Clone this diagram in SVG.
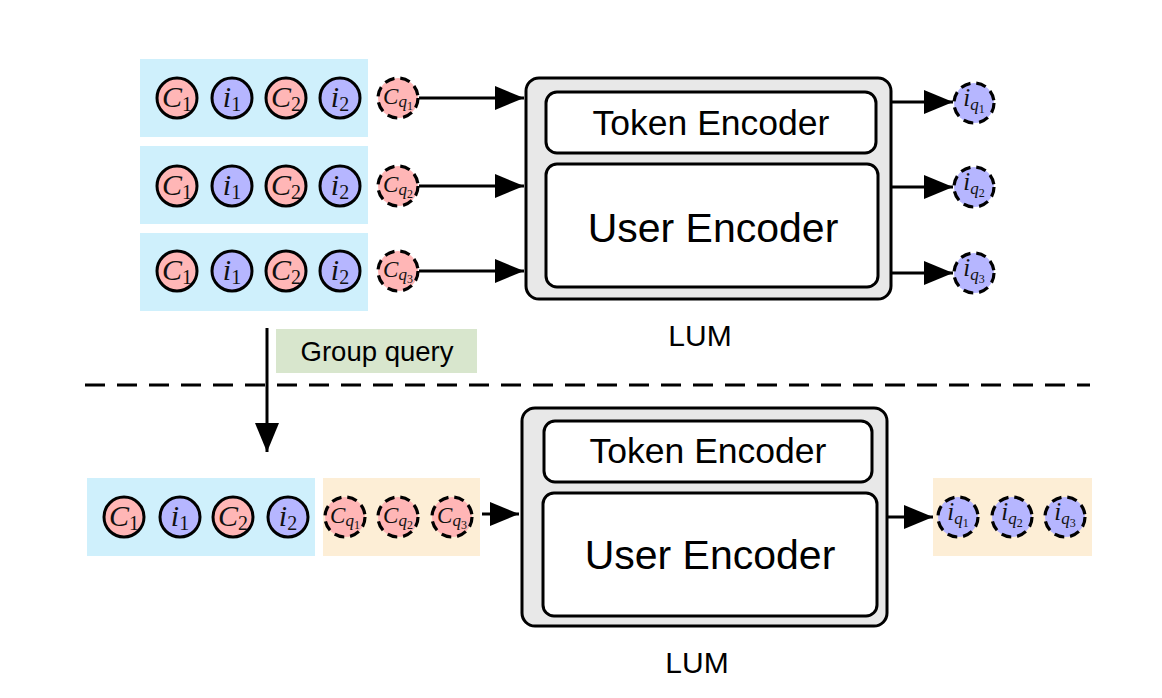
<svg xmlns="http://www.w3.org/2000/svg" width="1162" height="698" viewBox="0 0 1162 698">
<style>
.bg{fill:#ffffff}
.blue{fill:#cff0fc}
.orange{fill:#fdeed6}
.green{fill:#d8e6cd}
.c{fill:#ffb6b6;stroke:#000;stroke-width:3}
.i{fill:#b6b6ff;stroke:#000;stroke-width:3}
.dash{stroke-width:3.2;stroke-dasharray:10 6}
.m{font-family:"Liberation Serif",serif;font-style:italic;fill:#111}
.big{font-size:30px}
.sub{font-size:20px;font-style:normal}
.qs{font-size:17px}
.qss{font-size:12px;font-style:normal}
.sans{font-family:"Liberation Sans",Arial,sans-serif;fill:#000}
.lum{fill:#e8e8e8;stroke:#000;stroke-width:3}
.inner{fill:#fff;stroke:#000;stroke-width:3}
.edge{stroke:#000;stroke-width:3;fill:none}
</style>
<defs>
<marker id="ah" markerUnits="userSpaceOnUse" markerWidth="30" markerHeight="24" refX="29" refY="12" orient="auto">
<path d="M0,0 L29,12 L0,24 z" fill="#000"/>
</marker>
</defs>
<rect width="1162" height="698" class="bg"/>

<!-- background panels -->
<g id="panels">
<rect x="140" y="59" width="228" height="78" class="blue"/>
<rect x="140" y="146" width="228" height="78" class="blue"/>
<rect x="140" y="233" width="228" height="78" class="blue"/>
<rect x="87" y="478" width="228" height="78" class="blue"/>
<rect x="323" y="478" width="157" height="78" class="orange"/>
<rect x="933" y="478" width="159" height="78" class="orange"/>
</g>

<!-- connectors -->
<g id="connectors">
<line x1="419" y1="98" x2="524" y2="98" class="edge" marker-end="url(#ah)"/>
<line x1="419" y1="186" x2="524" y2="186" class="edge" marker-end="url(#ah)"/>
<line x1="419" y1="271" x2="524" y2="271" class="edge" marker-end="url(#ah)"/>
<line x1="892" y1="102" x2="953" y2="102" class="edge" marker-end="url(#ah)"/>
<line x1="892" y1="187" x2="953" y2="187" class="edge" marker-end="url(#ah)"/>
<line x1="892" y1="273" x2="953" y2="273" class="edge" marker-end="url(#ah)"/>
<line x1="267" y1="328" x2="267" y2="452" class="edge" marker-end="url(#ah)"/>
<line x1="482" y1="514" x2="519" y2="514" class="edge" marker-end="url(#ah)"/>
<line x1="888" y1="517" x2="933" y2="517" class="edge" marker-end="url(#ah)"/>
<line x1="85" y1="385" x2="1090" y2="385" stroke="#000" stroke-width="3" stroke-dasharray="20 12"/>
</g>

<!-- group query label -->
<g id="group-query">
<rect x="276" y="329" width="201" height="44" class="green"/>
<text x="377" y="361" text-anchor="middle" class="sans" font-size="27.5">Group query</text>
</g>

<!-- top LUM -->
<g id="lum-top">
<rect x="526" y="78" width="365" height="221" rx="13" class="lum"/>
<rect x="546" y="92" width="330" height="61" rx="11" class="inner"/>
<rect x="546" y="164" width="332" height="123" rx="11" class="inner"/>
<text x="711" y="135" text-anchor="middle" class="sans" font-size="35.5">Token Encoder</text>
<text x="713" y="242" text-anchor="middle" class="sans" font-size="41">User Encoder</text>
<text x="700" y="346" text-anchor="middle" class="sans" font-size="30">LUM</text>
</g>

<!-- bottom LUM -->
<g id="lum-bottom">
<rect x="522" y="408" width="365" height="218" rx="13" class="lum"/>
<rect x="544" y="421" width="328" height="61" rx="11" class="inner"/>
<rect x="543" y="493" width="334" height="123" rx="11" class="inner"/>
<text x="708" y="463" text-anchor="middle" class="sans" font-size="35.5">Token Encoder</text>
<text x="710" y="569" text-anchor="middle" class="sans" font-size="41">User Encoder</text>
<text x="697" y="673" text-anchor="middle" class="sans" font-size="30">LUM</text>
</g>

<!-- top row 1 tokens -->
<g id="row1">
<circle cx="177" cy="98" r="20" class="c"/><text x="177" y="107" text-anchor="middle" class="m big">C<tspan class="sub" dy="4">1</tspan></text>
<circle cx="232" cy="98" r="20" class="i"/><text x="232" y="107" text-anchor="middle" class="m big">i<tspan class="sub" dy="4">1</tspan></text>
<circle cx="286" cy="98" r="20" class="c"/><text x="286" y="107" text-anchor="middle" class="m big">C<tspan class="sub" dy="4">2</tspan></text>
<circle cx="340" cy="98" r="20" class="i"/><text x="340" y="107" text-anchor="middle" class="m big">i<tspan class="sub" dy="4">2</tspan></text>
</g>
<g id="row2">
<circle cx="177" cy="186" r="20" class="c"/><text x="177" y="195" text-anchor="middle" class="m big">C<tspan class="sub" dy="4">1</tspan></text>
<circle cx="232" cy="186" r="20" class="i"/><text x="232" y="195" text-anchor="middle" class="m big">i<tspan class="sub" dy="4">1</tspan></text>
<circle cx="286" cy="186" r="20" class="c"/><text x="286" y="195" text-anchor="middle" class="m big">C<tspan class="sub" dy="4">2</tspan></text>
<circle cx="340" cy="186" r="20" class="i"/><text x="340" y="195" text-anchor="middle" class="m big">i<tspan class="sub" dy="4">2</tspan></text>
</g>
<g id="row3">
<circle cx="177" cy="271" r="20" class="c"/><text x="177" y="280" text-anchor="middle" class="m big">C<tspan class="sub" dy="4">1</tspan></text>
<circle cx="232" cy="271" r="20" class="i"/><text x="232" y="280" text-anchor="middle" class="m big">i<tspan class="sub" dy="4">1</tspan></text>
<circle cx="286" cy="271" r="20" class="c"/><text x="286" y="280" text-anchor="middle" class="m big">C<tspan class="sub" dy="4">2</tspan></text>
<circle cx="340" cy="271" r="20" class="i"/><text x="340" y="280" text-anchor="middle" class="m big">i<tspan class="sub" dy="4">2</tspan></text>
</g>

<!-- top query tokens -->
<g id="cq-top">
<circle cx="398" cy="98" r="20" class="c dash"/><text x="398" y="104" text-anchor="middle" class="m" font-size="23">C<tspan class="qs" dy="3">q</tspan><tspan class="qss" dy="3">1</tspan></text>
<circle cx="398" cy="186" r="20" class="c dash"/><text x="398" y="192" text-anchor="middle" class="m" font-size="23">C<tspan class="qs" dy="3">q</tspan><tspan class="qss" dy="3">2</tspan></text>
<circle cx="398" cy="271" r="20" class="c dash"/><text x="398" y="277" text-anchor="middle" class="m" font-size="23">C<tspan class="qs" dy="3">q</tspan><tspan class="qss" dy="3">3</tspan></text>
</g>
<g id="iq-top">
<circle cx="974" cy="103" r="20" class="i dash"/><text x="974" y="106" text-anchor="middle" class="m" font-size="25">i<tspan class="qs" dy="4">q</tspan><tspan class="qss" dy="3">1</tspan></text>
<circle cx="974" cy="187" r="20" class="i dash"/><text x="974" y="190" text-anchor="middle" class="m" font-size="25">i<tspan class="qs" dy="4">q</tspan><tspan class="qss" dy="3">2</tspan></text>
<circle cx="974" cy="273" r="20" class="i dash"/><text x="974" y="276" text-anchor="middle" class="m" font-size="25">i<tspan class="qs" dy="4">q</tspan><tspan class="qss" dy="3">3</tspan></text>
</g>

<!-- bottom row -->
<g id="row-bottom">
<circle cx="124" cy="517" r="20" class="c"/><text x="124" y="526" text-anchor="middle" class="m big">C<tspan class="sub" dy="4">1</tspan></text>
<circle cx="180" cy="517" r="20" class="i"/><text x="180" y="526" text-anchor="middle" class="m big">i<tspan class="sub" dy="4">1</tspan></text>
<circle cx="233" cy="517" r="20" class="c"/><text x="233" y="526" text-anchor="middle" class="m big">C<tspan class="sub" dy="4">2</tspan></text>
<circle cx="288" cy="517" r="20" class="i"/><text x="288" y="526" text-anchor="middle" class="m big">i<tspan class="sub" dy="4">2</tspan></text>
</g>
<g id="cq-bottom">
<circle cx="345" cy="517" r="20" class="c dash"/><text x="345" y="523" text-anchor="middle" class="m" font-size="23">C<tspan class="qs" dy="3">q</tspan><tspan class="qss" dy="3">1</tspan></text>
<circle cx="398" cy="517" r="20" class="c dash"/><text x="398" y="523" text-anchor="middle" class="m" font-size="23">C<tspan class="qs" dy="3">q</tspan><tspan class="qss" dy="3">2</tspan></text>
<circle cx="452" cy="517" r="20" class="c dash"/><text x="452" y="523" text-anchor="middle" class="m" font-size="23">C<tspan class="qs" dy="3">q</tspan><tspan class="qss" dy="3">3</tspan></text>
</g>
<g id="iq-bottom">
<circle cx="958" cy="517" r="20" class="i dash"/><text x="958" y="520" text-anchor="middle" class="m" font-size="25">i<tspan class="qs" dy="4">q</tspan><tspan class="qss" dy="3">1</tspan></text>
<circle cx="1012" cy="517" r="20" class="i dash"/><text x="1012" y="520" text-anchor="middle" class="m" font-size="25">i<tspan class="qs" dy="4">q</tspan><tspan class="qss" dy="3">2</tspan></text>
<circle cx="1065" cy="517" r="20" class="i dash"/><text x="1065" y="520" text-anchor="middle" class="m" font-size="25">i<tspan class="qs" dy="4">q</tspan><tspan class="qss" dy="3">3</tspan></text>
</g>
</svg>
